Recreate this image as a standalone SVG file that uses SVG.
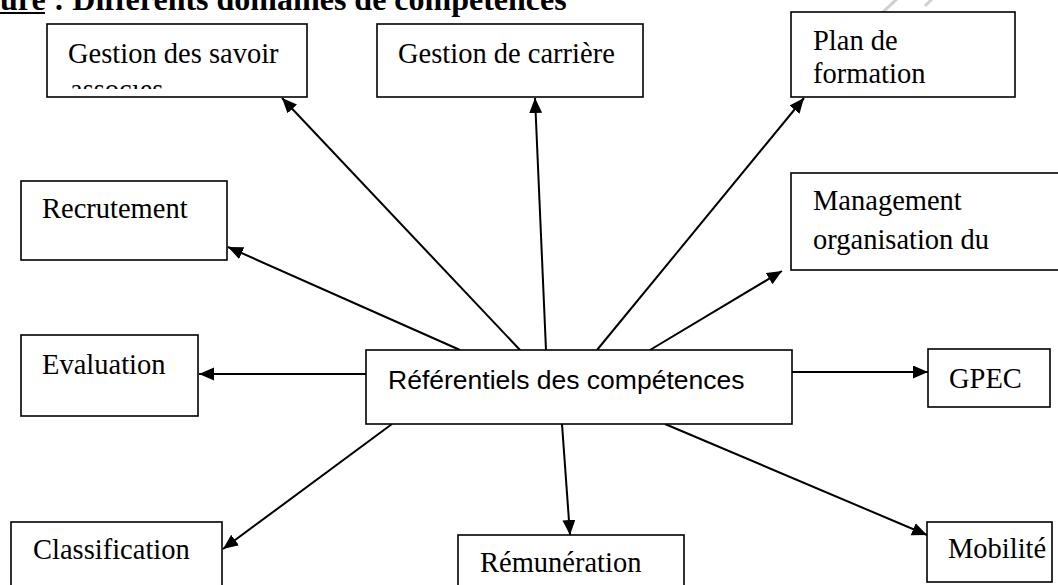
<svg xmlns="http://www.w3.org/2000/svg" width="1058" height="585" viewBox="0 0 1058 585">
<style>
.box{fill:#fff;stroke:#000;stroke-width:1.6}
.t{font-family:"Liberation Serif","Times New Roman",serif;font-size:28.5px;fill:#000}
.c{font-family:"Liberation Sans",Arial,sans-serif;font-size:26.5px;fill:#000}
.title{font-family:"Liberation Serif","Times New Roman",serif;font-size:32px;font-weight:bold;fill:#000}
.arr{stroke:#000;stroke-width:2;fill:none;marker-end:url(#ah)}
</style>
<defs>
<marker id="ah" markerUnits="userSpaceOnUse" markerWidth="16" markerHeight="14" refX="15" refY="6.5" orient="auto">
<path d="M0,0 L15,6.5 L0,13 z" fill="#000"/>
</marker>
<clipPath id="clipSav"><rect x="47" y="85" width="260" height="4"/></clipPath>
</defs>
<rect width="1058" height="585" fill="#fff"/>
<g id="title">
<text class="title" x="0" y="10">ure : Différents domaines de compétences</text>
<rect x="0" y="12" width="45" height="2" fill="#000"/>
</g>
<g id="watermark" stroke="#d0d0d0" stroke-width="3" fill="none">
<path d="M868,26 L898,-2"/>
<path d="M925,6 L935,-4"/>
</g>
<g id="connectors">
<line class="arr" x1="520" y1="350" x2="282" y2="98"/>
<line class="arr" x1="546" y1="350" x2="535" y2="98"/>
<line class="arr" x1="597" y1="350" x2="804" y2="98"/>
<line class="arr" x1="650" y1="350" x2="782" y2="271"/>
<line class="arr" x1="460" y1="350" x2="228" y2="247"/>
<line class="arr" x1="366" y1="374" x2="199" y2="374"/>
<line class="arr" x1="792" y1="372" x2="928" y2="372"/>
<line class="arr" x1="392" y1="424" x2="223" y2="549"/>
<line class="arr" x1="562" y1="424" x2="570" y2="535"/>
<line class="arr" x1="665" y1="424" x2="927" y2="535"/>
</g>
<g id="n-savoir">
<rect class="box" x="47" y="24" width="260" height="73"/>
<text class="t" x="68" y="63">Gestion des savoir</text>
<text class="t" x="70" y="99" clip-path="url(#clipSav)">associés</text>
</g>
<g id="n-carriere">
<rect class="box" x="377" y="24" width="266" height="73"/>
<text class="t" x="398" y="63">Gestion de carrière</text>
</g>
<g id="n-plan">
<rect class="box" x="791" y="12" width="224" height="85"/>
<text class="t" x="813" y="50">Plan de</text>
<text class="t" x="813" y="83">formation</text>
</g>
<g id="n-recrutement">
<rect class="box" x="21" y="181" width="206" height="79"/>
<text class="t" x="42" y="218">Recrutement</text>
</g>
<g id="n-management">
<rect class="box" x="791" y="173" width="275" height="97"/>
<text class="t" x="813" y="210">Management</text>
<text class="t" x="813" y="249">organisation du</text>
</g>
<g id="n-evaluation">
<rect class="box" x="21" y="335" width="177" height="81"/>
<text class="t" x="42" y="374">Evaluation</text>
</g>
<g id="n-referentiels">
<rect class="box" x="366" y="350" width="426" height="74"/>
<text class="c" x="388" y="389">Référentiels des compétences</text>
</g>
<g id="n-gpec">
<rect class="box" x="928" y="349" width="122" height="58"/>
<text class="t" x="949" y="388">GPEC</text>
</g>
<g id="n-classification">
<rect class="box" x="11" y="522" width="211" height="75"/>
<text class="t" x="33" y="559">Classification</text>
</g>
<g id="n-remuneration">
<rect class="box" x="458" y="535" width="226" height="62"/>
<text class="t" x="480" y="572">Rémunération</text>
</g>
<g id="n-mobilite">
<rect class="box" x="927" y="522" width="125" height="60"/>
<text class="t" x="948" y="558">Mobilité</text>
</g>
</svg>
